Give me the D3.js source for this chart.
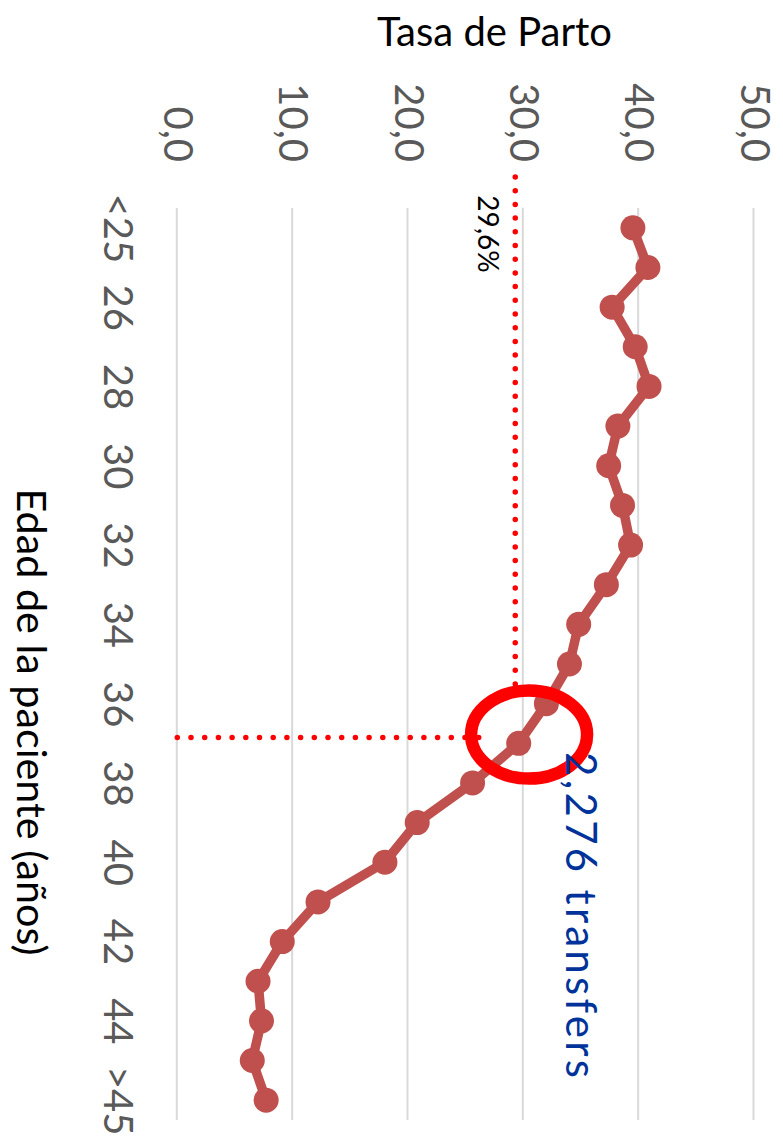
<!DOCTYPE html>
<html>
<head>
<meta charset="utf-8">
<script src="https://cdn.jsdelivr.net/npm/d3@7"></script>
<style>
  html, body { margin: 0; padding: 0; background: #fff; }
  svg { display: block; }
</style>
</head>
<body>
<svg id="chart" width="783" height="1140"></svg>
<script>
// ---- data ----
const ageCategories = ["<25","25","26","27","28","29","30","31","32","33","34","35","36","37","38","39","40","41","42","43","44","45",">45"];
const ageTickLabels = ["<25","26","28","30","32","34","36","38","40","42","44",">45"];
const birthRates = [39.5, 40.8, 37.7, 39.7, 40.9, 38.2, 37.4, 38.6, 39.3, 37.2, 34.8, 34.0, 32.0, 29.6, 25.6, 20.8, 18.0, 12.2, 9.1, 7.0, 7.3, 6.5, 7.7];
const valueTicks = [0, 10, 20, 30, 40, 50];
const valueTickLabels = ["0,0","10,0","20,0","30,0","40,0","50,0"];
const valueTitle = "Tasa de Parto";
const ageTitle = "Edad de la paciente (años)";
const markedAge = "37";
const markedLabel = "29,6%";
const transfersLabel = "2,276 transfers";

// ---- layout (inner, un-rotated frame; whole chart rotated 90° clockwise) ----
const W = 783, H = 1140;
const svg = d3.select("#chart");
const g = svg.append("g").attr("transform", `translate(${W},0) rotate(90)`);

const x = d3.scalePoint().domain(ageCategories).range([208, 1120]).padding(0.5);
const y = d3.scaleLinear().domain([0, 50]).range([605.7, 29]);
const fontFam = "Lato, 'Open Sans', sans-serif";

// value axis with gridlines
const yAxis = d3.axisLeft(y)
  .tickValues(valueTicks)
  .tickFormat((d, i) => valueTickLabels[i])
  .tickSizeInner(-(1120 - 208))
  .tickSizeOuter(0)
  .tickPadding(46);
const ya = g.append("g").attr("transform", "translate(208,0)").call(yAxis);
ya.select(".domain").remove();
ya.selectAll(".tick line").attr("stroke", "#D9D9D9").attr("stroke-width", 2);
ya.selectAll(".tick text")
  .attr("fill", "#595959").attr("font-family", fontFam).attr("font-size", 40);

// category axis
const xAxis = d3.axisBottom(x).tickValues(ageTickLabels).tickSize(0).tickPadding(45);
const xa = g.append("g").attr("transform", `translate(0,${y(0)})`).call(xAxis);
xa.select(".domain").remove();
xa.selectAll(".tick text")
  .attr("fill", "#595959").attr("font-family", fontFam).attr("font-size", 40);

// axis titles
g.append("text")
  .attr("transform", `translate(46,${y(27.5)}) rotate(-90)`)
  .attr("text-anchor", "middle")
  .attr("font-family", fontFam).attr("font-size", 40).attr("fill", "#000")
  .text(valueTitle);
g.append("text")
  .attr("x", 722).attr("y", 766)
  .attr("text-anchor", "middle")
  .attr("font-family", fontFam).attr("font-size", 41.3).attr("fill", "#000")
  .text(ageTitle);

// annotations: dotted guide lines
const step = x.step();
const ringCx = x(markedAge) - 0.22 * step;
const ringCy = y(30.5);
const ringRx = 44, ringRy = 58;
const dotStyle = sel => sel.attr("stroke", "#FF0000").attr("stroke-width", 5.5)
  .attr("stroke-linecap", "round").attr("stroke-dasharray", "0 13.7").attr("fill", "none");

g.append("line")
  .attr("x1", 177).attr("x2", ringCx - ringRx - 6)
  .attr("y1", y(29.3)).attr("y2", y(29.3))
  .call(dotStyle);
g.append("line")
  .attr("x1", ringCx + 3).attr("x2", ringCx + 3)
  .attr("y1", y(0)).attr("y2", y(26.3))
  .call(dotStyle);

// series line + markers
const line = d3.line().x((d, i) => x(ageCategories[i])).y(d => y(d));
g.append("path")
  .datum(birthRates)
  .attr("d", line)
  .attr("fill", "none").attr("stroke", "#C0504D").attr("stroke-width", 9.5)
  .attr("stroke-linejoin", "round");
g.selectAll("circle.pt")
  .data(birthRates)
  .enter().append("circle").attr("class", "pt")
  .attr("cx", (d, i) => x(ageCategories[i]))
  .attr("cy", d => y(d))
  .attr("r", 12.5)
  .attr("fill", "#C0504D");

// ring
g.append("ellipse")
  .attr("cx", ringCx).attr("cy", ringCy)
  .attr("rx", ringRx).attr("ry", ringRy)
  .attr("fill", "none").attr("stroke", "#FF0000").attr("stroke-width", 12.5);

// labels
g.append("text")
  .attr("x", 234).attr("y", y(26.3) + 3)
  .attr("text-anchor", "middle")
  .attr("font-family", fontFam).attr("font-size", 28).attr("fill", "#000")
  .text(markedLabel);

g.append("text")
  .attr("x", 752).attr("y", y(33.7))
  .attr("text-anchor", "start")
  .attr("font-family", fontFam).attr("font-size", 42).attr("fill", "#003399")
  .attr("textLength", 326).attr("lengthAdjust", "spacing")
  .text(transfersLabel);
</script>
</body>
</html>
